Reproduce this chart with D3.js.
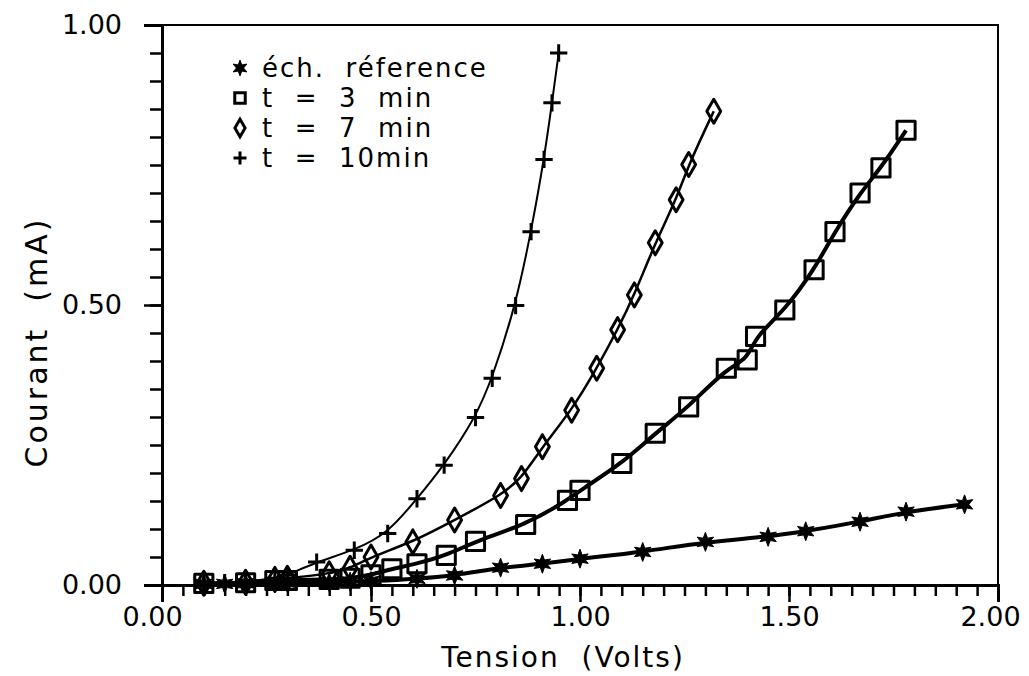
<!DOCTYPE html>
<html>
<head>
<meta charset="utf-8">
<script src="https://cdn.jsdelivr.net/npm/d3@7"></script>
<style>
  html, body { margin: 0; padding: 0; background: #fff; }
  svg text { font-family: "DejaVu Sans", sans-serif; fill: #000; white-space: pre; }
</style>
</head>
<body>
<svg id="chart" width="1029" height="676"></svg>
<script>
// I-V curves: current (mA) vs voltage (Volts)
const refV = [0.10, 0.15, 0.20, 0.27, 0.30, 0.40, 0.45, 0.50, 0.61, 0.70, 0.81, 0.91, 1.00, 1.15, 1.30, 1.45, 1.54, 1.67, 1.78, 1.92];
const refI = [0.002, 0.002, 0.003, 0.003, 0.004, 0.005, 0.006, 0.007, 0.011, 0.017, 0.031, 0.038, 0.047, 0.059, 0.077, 0.086, 0.096, 0.113, 0.131, 0.144];

const t3V = [0.10, 0.20, 0.27, 0.30, 0.40, 0.45, 0.50, 0.55, 0.61, 0.68, 0.75, 0.87, 0.97, 1.00, 1.10, 1.18, 1.26, 1.35, 1.40, 1.42, 1.49, 1.56, 1.61, 1.67, 1.72, 1.78];
const t3I = [0.003, 0.004, 0.008, 0.008, 0.010, 0.012, 0.018, 0.029, 0.038, 0.053, 0.078, 0.108, 0.151, 0.169, 0.217, 0.271, 0.318, 0.387, 0.402, 0.444, 0.491, 0.563, 0.631, 0.700, 0.745, 0.812];

const t7V = [0.10, 0.20, 0.27, 0.30, 0.40, 0.45, 0.50, 0.60, 0.70, 0.81, 0.86, 0.91, 0.98, 1.04, 1.09, 1.13, 1.18, 1.23, 1.26, 1.32];
const t7I = [0.003, 0.005, 0.010, 0.012, 0.020, 0.030, 0.050, 0.077, 0.116, 0.160, 0.190, 0.247, 0.312, 0.387, 0.456, 0.518, 0.611, 0.688, 0.751, 0.846];

const t10V = [0.10, 0.15, 0.20, 0.27, 0.30, 0.37, 0.46, 0.54, 0.61, 0.675, 0.75, 0.79, 0.846, 0.883, 0.914, 0.933, 0.949];
const t10I = [0.003, 0.004, 0.006, 0.012, 0.018, 0.041, 0.062, 0.092, 0.154, 0.214, 0.299, 0.369, 0.499, 0.631, 0.760, 0.861, 0.950];

const xMajor = [0, 0.5, 1.0, 1.5, 2.0];
const yMajor = [0, 0.5, 1.0];
const legendLabels = ['\u00e9ch.  r\u00e9ference', 't  =  3  min', 't  =  7  min', 't  =  10min'];

const svg = d3.select('#chart');

const xScale = d3.scaleLinear().domain([0, 2]).range([162, 998]);
const yScale = d3.scaleLinear().domain([0, 1]).range([585, 25]);

// custom symbols
const star6 = {
  draw(ctx, size) {
    const r = Math.sqrt(size) * 0.75, ri = r * 0.45;
    for (let k = 0; k < 12; k++) {
      const a = -Math.PI / 2 + k * Math.PI / 6;
      const rr = k % 2 ? ri : r;
      if (k === 0) ctx.moveTo(rr * Math.cos(a), rr * Math.sin(a));
      else ctx.lineTo(rr * Math.cos(a), rr * Math.sin(a));
    }
    ctx.closePath();
  }
};
const plus = {
  draw(ctx, size) {
    const r = Math.sqrt(size) / 2;
    ctx.moveTo(-r, 0); ctx.lineTo(r, 0);
    ctx.moveTo(0, -r); ctx.lineTo(0, r);
  }
};

const series = [
  { V: refV, I: refI, type: star6, size: 160, fill: '#000', stroke: '#000', sw: 1, lw: 4 },
  { V: t3V, I: t3I, type: d3.symbolSquare, size: 330, fill: 'none', stroke: '#000', sw: 3, lw: 4 },
  { V: t7V, I: t7I, type: d3.symbolDiamond, size: 166, fill: 'none', stroke: '#000', sw: 3, lw: 2.5 },
  { V: t10V, I: t10I, type: plus, size: 300, fill: 'none', stroke: '#000', sw: 3, lw: 2 }
];

// frame
svg.append('rect')
  .attr('x', xScale(0)).attr('y', yScale(1))
  .attr('width', xScale(2) - xScale(0)).attr('height', yScale(0) - yScale(1))
  .attr('fill', 'none').attr('stroke', '#000').attr('stroke-width', 2);

// x axis: minor then major ticks
const xMinor = d3.range(0, 2.0001, 0.05);
const gx = svg.append('g').attr('transform', `translate(0, ${yScale(0)})`);
gx.append('g').call(d3.axisBottom(xScale).tickValues(xMinor).tickSize(11).tickFormat(''));
gx.append('g').call(d3.axisBottom(xScale).tickValues(xMajor).tickSize(17).tickPadding(3).tickFormat(d3.format('.2f')));
gx.selectAll('.domain').attr('stroke-width', 3);
gx.selectAll('line').attr('stroke-width', 2.5);
gx.selectAll('text')
  .attr('font-size', '27px')
  .attr('dy', '0.78em')
  .attr('dx', d => d === 0 ? -10 : d === 2 ? -8 : 0);

// y axis
const yMinor = d3.range(0, 1.0001, 0.05);
const gy = svg.append('g').attr('transform', `translate(${xScale(0)}, 0)`);
gy.append('g').call(d3.axisLeft(yScale).tickValues(yMinor).tickSize(12).tickFormat(''));
gy.append('g').call(d3.axisLeft(yScale).tickValues(yMajor).tickSize(18).tickPadding(22).tickFormat(d3.format('.2f')));
gy.selectAll('.domain').attr('stroke-width', 3);
gy.selectAll('line').attr('stroke-width', 2.5);
gy.selectAll('text').attr('font-size', '27px');

// axis titles
svg.append('text')
  .attr('x', 563).attr('y', 667)
  .attr('text-anchor', 'middle')
  .attr('font-size', '28px')
  .attr('letter-spacing', '2px')
  .text('Tension  (Volts)');

svg.append('text')
  .attr('transform', 'translate(47, 342) rotate(-90)')
  .attr('text-anchor', 'middle')
  .attr('font-size', '30px')
  .attr('letter-spacing', '3px')
  .text('Courant  (mA)');

// curves + markers
const line = d3.line()
  .x(d => xScale(d[0]))
  .y(d => yScale(d[1]))
  .curve(d3.curveBasis);

series.forEach(s => {
  const pts = s.V.map((v, i) => [v, s.I[i]]);
  svg.append('path')
    .attr('d', line(pts))
    .attr('fill', 'none')
    .attr('stroke', '#000')
    .attr('stroke-width', s.lw);

  svg.append('g').selectAll('path')
    .data(pts)
    .join('path')
    .attr('transform', d => `translate(${xScale(d[0])}, ${yScale(d[1])})`)
    .attr('d', d3.symbol().type(s.type).size(s.size))
    .attr('fill', s.fill)
    .attr('stroke', s.stroke)
    .attr('stroke-width', s.sw)
    .attr('stroke-linejoin', 'round');
});

// legend
const legendSizes = [110, 110, 90, 170];
const legend = svg.append('g');
legendLabels.forEach((label, i) => {
  const s = series[i];
  const cy = 68 + i * 30;
  legend.append('path')
    .attr('transform', `translate(240, ${cy})`)
    .attr('d', d3.symbol().type(s.type).size(legendSizes[i]))
    .attr('fill', s.fill)
    .attr('stroke', '#000')
    .attr('stroke-width', s.sw);
  legend.append('text')
    .attr('x', 262).attr('y', cy + 9)
    .attr('font-size', '26px')
    .attr('letter-spacing', '2px')
    .text(label);
});
</script>
</body>
</html>
